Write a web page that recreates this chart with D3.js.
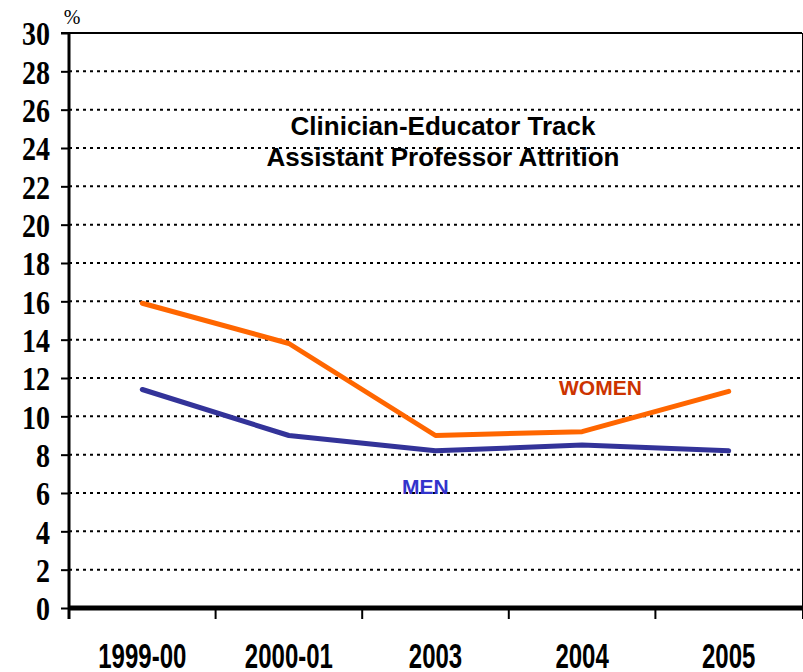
<!DOCTYPE html>
<html>
<head>
<meta charset="utf-8">
<script src="https://cdn.jsdelivr.net/npm/d3@7/dist/d3.min.js"></script>
<style>
  html, body { margin: 0; padding: 0; background: #fff; }
  svg { display: block; }
</style>
</head>
<body>
<svg id="chart" width="803" height="672"></svg>
<script>
// Attrition rates (%) by year, clinician-educator track assistant professors
const categories = ["1999-00", "2000-01", "2003", "2004", "2005"];
const women = [15.9, 13.8, 9.0, 9.2, 11.3];
const men = [11.4, 9.0, 8.2, 8.5, 8.2];
const yTicks = [0, 2, 4, 6, 8, 10, 12, 14, 16, 18, 20, 22, 24, 26, 28, 30];
const titleLines = ["Clinician-Educator Track", "Assistant Professor Attrition"];

const svg = d3.select("#chart");
const plotLeft = 69, plotRight = 802, plotTop = 33, plotBottom = 608;

const x = d3.scaleBand().domain(categories).range([plotLeft, plotRight]).padding(0);
const y = d3.scaleLinear().domain([0, 30]).range([plotBottom, plotTop]);

// Dotted horizontal gridlines
svg.append("g")
  .selectAll("line")
  .data(yTicks.filter(d => d > 0 && d < 30))
  .join("line")
  .attr("x1", plotLeft).attr("x2", plotRight)
  .attr("y1", d => y(d)).attr("y2", d => y(d))
  .attr("stroke", "#000").attr("stroke-width", 2)
  .attr("stroke-dasharray", "3,4");

// Solid top border at 30
svg.append("line")
  .attr("x1", plotLeft - 8).attr("x2", plotRight)
  .attr("y1", y(30)).attr("y2", y(30))
  .attr("stroke", "#000").attr("stroke-width", 2);

// Right border
svg.append("line")
  .attr("x1", plotRight + 0.5).attr("x2", plotRight + 0.5)
  .attr("y1", y(30)).attr("y2", plotBottom + 11)
  .attr("stroke", "#000").attr("stroke-width", 1);

// Y axis with outward ticks
const yAxis = svg.append("g")
  .attr("transform", `translate(${plotLeft},0)`)
  .call(d3.axisLeft(y).tickValues(yTicks).tickSize(8).tickFormat(""));
yAxis.select(".domain").remove();
yAxis.selectAll(".tick line").attr("stroke", "#000").attr("stroke-width", 2);
svg.append("line")
  .attr("x1", plotLeft).attr("x2", plotLeft)
  .attr("y1", y(30) - 1).attr("y2", plotBottom + 11)
  .attr("stroke", "#000").attr("stroke-width", 3);

// Y tick labels (tall serif numerals)
svg.append("g")
  .selectAll("g")
  .data(yTicks)
  .join("g")
  .attr("transform", d => `translate(50,${y(d)}) scale(1,1.2)`)
  .append("text")
  .attr("text-anchor", "end")
  .attr("dy", "0.37em")
  .attr("font-family", "'Liberation Serif', 'Times New Roman', serif")
  .attr("font-weight", "bold")
  .attr("font-size", 28)
  .attr("fill", "#000")
  .text(d => d);

// Unit marker
svg.append("text")
  .attr("x", 72).attr("y", 24)
  .attr("text-anchor", "middle")
  .attr("font-family", "'Liberation Serif', 'Times New Roman', serif")
  .attr("font-size", 20)
  .text("%");

// X axis baseline and category boundary ticks
svg.append("line")
  .attr("x1", plotLeft).attr("x2", plotRight)
  .attr("y1", plotBottom).attr("y2", plotBottom)
  .attr("stroke", "#000").attr("stroke-width", 5);
const boundaries = categories.map(c => x(c)).concat([x.range()[1]]);
svg.append("g")
  .selectAll("line")
  .data(boundaries.slice(1, -1))
  .join("line")
  .attr("x1", d => d).attr("x2", d => d)
  .attr("y1", plotBottom).attr("y2", plotBottom + 11)
  .attr("stroke", "#000").attr("stroke-width", 2);

// X category labels
svg.append("g")
  .selectAll("g")
  .data(categories)
  .join("g")
  .attr("transform", d => `translate(${x(d) + x.bandwidth() / 2},668) scale(1,1.43)`)
  .append("text")
  .attr("text-anchor", "middle")
  .attr("font-family", "'Liberation Sans', Arial, sans-serif")
  .attr("font-weight", "bold")
  .attr("font-size", 24)
  .attr("fill", "#000")
  .text(d => d);

// Series lines
const line = d3.line()
  .x((d, i) => x(categories[i]) + x.bandwidth() / 2)
  .y(d => y(d));

svg.append("path")
  .datum(men)
  .attr("d", line)
  .attr("fill", "none")
  .attr("stroke", "#333399")
  .attr("stroke-width", 5)
  .attr("stroke-linecap", "round")
  .attr("stroke-linejoin", "round");

svg.append("path")
  .datum(women)
  .attr("d", line)
  .attr("fill", "none")
  .attr("stroke", "#FF6600")
  .attr("stroke-width", 5)
  .attr("stroke-linecap", "round")
  .attr("stroke-linejoin", "round");

// Series labels
svg.append("text")
  .attr("x", 559).attr("y", 395)
  .attr("font-family", "'Liberation Sans', Arial, sans-serif")
  .attr("font-weight", "bold")
  .attr("font-size", 21)
  .attr("fill", "#CC3300")
  .text("WOMEN");

svg.append("text")
  .attr("x", 402).attr("y", 494)
  .attr("font-family", "'Liberation Sans', Arial, sans-serif")
  .attr("font-weight", "bold")
  .attr("font-size", 21)
  .attr("fill", "#3333CC")
  .text("MEN");

// Title
svg.append("g")
  .selectAll("text")
  .data(titleLines)
  .join("text")
  .attr("x", 443)
  .attr("y", (d, i) => 135 + i * 31)
  .attr("text-anchor", "middle")
  .attr("font-family", "'Liberation Sans', Arial, sans-serif")
  .attr("font-weight", "bold")
  .attr("font-size", 26)
  .attr("fill", "#000")
  .text(d => d);
</script>
</body>
</html>
